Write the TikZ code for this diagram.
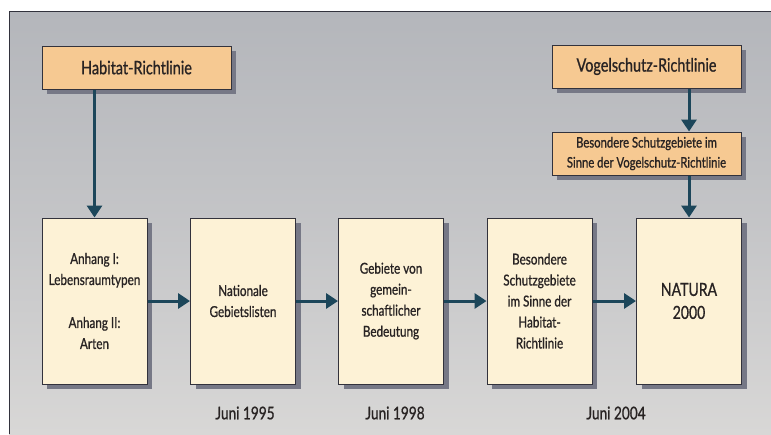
\documentclass[tikz,border=0pt]{standalone}
\usepackage{fontspec}
\setmainfont[FakeStretch=0.78,FakeBold=0.9]{Lato}
\usetikzlibrary{arrows.meta,shadows}
\definecolor{panelTop}{RGB}{180,182,187}
\definecolor{panelBot}{RGB}{216,215,214}
\definecolor{peach}{RGB}{246,201,146}
\definecolor{cream}{RGB}{253,242,214}
\definecolor{arrowc}{RGB}{28,70,90}
\definecolor{edgec}{RGB}{50,50,60}
\definecolor{shadec}{RGB}{118,120,134}
\definecolor{textc}{RGB}{40,35,35}
\begin{document}
\begin{tikzpicture}[x=1pt,y=-1pt,
  boxbase/.style={draw=edgec,line width=1pt,inner sep=0pt,align=center,text=textc,
    general shadow={fill=shadec,shadow xshift=5pt,shadow yshift=-5pt}},
  topbox/.style={boxbase,fill=peach,minimum width=189pt,minimum height=43pt},
  lowbox/.style={boxbase,fill=cream,minimum width=105pt,minimum height=166pt,
    font=\fontsize{15}{21}\selectfont},
  datelbl/.style={text=textc,font=\fontsize{17.5}{20}\selectfont},
  conn/.style={draw=arrowc,line width=3pt,-{Triangle[length=12pt,width=15pt]}}]
\useasboundingbox (0,0) rectangle (771,434);
\fill[white] (0,0) rectangle (771,434);
\fill[panelBot] (9,11) rectangle (771,434);
\shade[top color=panelTop,bottom color=panelBot,middle color=panelTop!55!panelBot] (9,11) rectangle (771,434);
\draw[edgec,line width=1pt] (9,434) -- (9,11) -- (771,11);

\node[topbox,font=\fontsize{18.5}{22}\selectfont] (hab) at (136.5,67.5) {Habitat-Richtlinie};
\node[topbox,font=\fontsize{18.5}{22}\selectfont] (vog) at (646.5,66.5) {Vogelschutz-Richtlinie};
\node[topbox,font=\fontsize{14.5}{20}\selectfont] (spa) at (646.5,153.5) {Besondere Schutzgebiete im\\Sinne der Vogelschutz-Richtlinie};

\node[lowbox] (b1) at (94.5,301) {Anhang I:\\Lebensraumtypen\\[22pt]Anhang II:\\Arten};
\node[lowbox] (b2) at (243,301) {Nationale\\Gebietslisten};
\node[lowbox] (b3) at (391,301) {Gebiete von\\gemein-\\schaftlicher\\Bedeutung};
\node[lowbox] (b4) at (539.5,301) {Besondere\\Schutzgebiete\\im Sinne der\\Habitat-\\Richtlinie};
\node[lowbox,font=\fontsize{18}{23}\selectfont] (b5) at (689,301) {NATURA\\2000};

\node[datelbl] (d1) at (245,413) {Juni 1995};
\node[datelbl] (d2) at (395,413) {Juni 1998};
\node[datelbl] (d3) at (616,413) {Juni 2004};

\draw[conn] (b1.north |- hab.south) -- (b1.north);
\draw[conn] (b5.north |- vog.south) -- (b5.north |- spa.north);
\draw[conn] (b5.north |- spa.south) -- (b5.north);
\draw[conn] (b1.east) -- (b2.west);
\draw[conn] (b2.east) -- (b3.west);
\draw[conn] (b3.east) -- (b4.west);
\draw[conn] (b4.east) -- (b5.west);
\end{tikzpicture}
\end{document}
